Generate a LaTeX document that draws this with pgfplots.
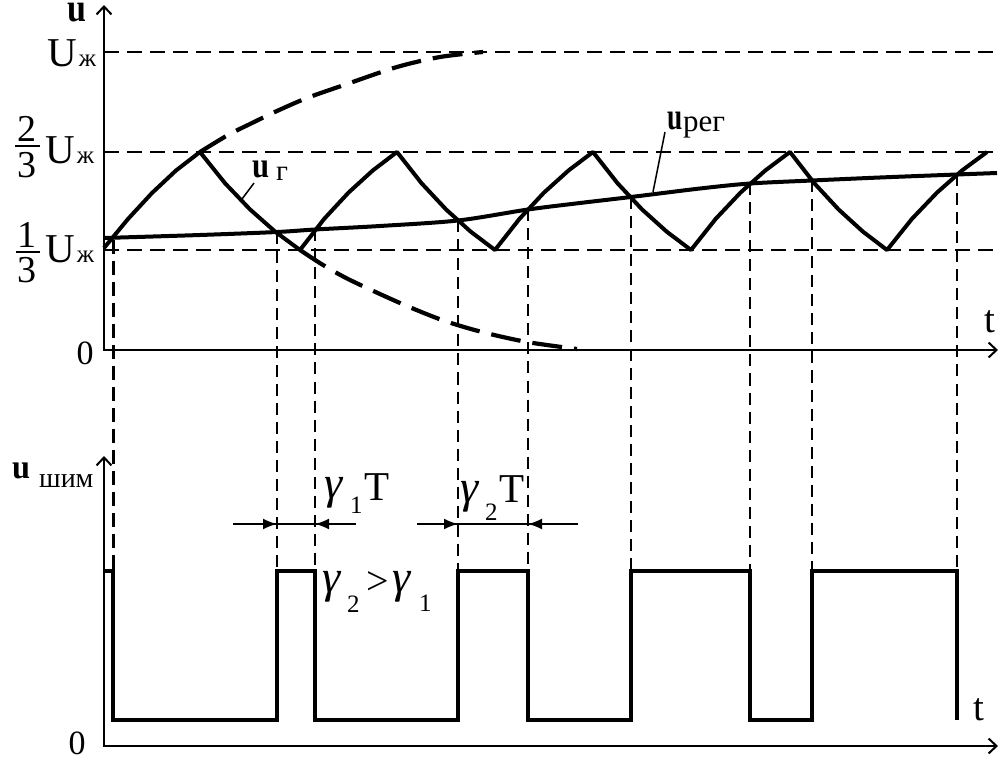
\documentclass[border=0pt]{standalone}
\usepackage{fontspec}
\setmainfont{Liberation Serif}
\usepackage{graphicx}
\usepackage{pgfplots}
\pgfplotsset{compat=1.18}
\usetikzlibrary{arrows.meta}
\newcommand{\fs}[1]{\fontsize{#1}{#1}\selectfont}
\begin{document}
\begin{tikzpicture}
\useasboundingbox (0,0) rectangle (999pt,759pt);
\begin{axis}[at={(0,0)}, anchor=south west, scale only axis, width=999pt, height=759pt,
  xmin=0, xmax=999, ymin=0, ymax=759, y dir=reverse, hide axis, clip=false]
% level lines
\addplot[black, line width=1.8pt, dash pattern=on 15pt off 8pt] coordinates {(104,52) (997,52)};
\addplot[black, line width=1.8pt, dash pattern=on 15pt off 8pt] coordinates {(104,152) (997,152)};
\addplot[black, line width=1.8pt, dash pattern=on 15pt off 8pt] coordinates {(104,250) (997,250)};
% axes
\draw[line width=2.6pt, -{Straight Barb[length=8pt,width=15pt,line width=2pt]}] (104,351) -- (104,5);
\draw[line width=2.6pt, -{Straight Barb[length=8pt,width=15pt,line width=2pt]}] (103,350) -- (998,350);
\draw[line width=2pt, -{Straight Barb[length=8pt,width=15pt,line width=2pt]}] (104,747) -- (104,456);
\draw[line width=2pt, -{Straight Barb[length=8pt,width=15pt,line width=2pt]}] (103,746) -- (998,746);
% dashed exponential continuations
\addplot[black, line width=4.2pt, dash pattern=on 30pt off 12pt, smooth] coordinates {
(200,152) (228,135) (250,124) (277,111) (307,98) (347,84) (397,67) (440,57) (483,52)};
\addplot[black, line width=4.2pt, dash pattern=on 30pt off 12pt, smooth] coordinates {
(300,250) (323,265) (350,280) (400,303) (442,320) (482,332) (527,342) (577,349)};
% vertical dashed projection lines
\addplot[black, line width=3pt, dash pattern=on 14pt off 7pt] coordinates {(113,240) (113,571)};
\addplot[black, line width=1.6pt, dash pattern=on 12pt off 7pt] coordinates {(277,232) (277,571)};
\addplot[black, line width=1.6pt, dash pattern=on 12pt off 7pt] coordinates {(315,229.5) (315,571)};
\addplot[black, line width=1.6pt, dash pattern=on 12pt off 7pt] coordinates {(458,220.5) (458,571)};
\addplot[black, line width=2.4pt, dash pattern=on 12pt off 7pt] coordinates {(528,209.5) (528,571)};
\addplot[black, line width=2.2pt, dash pattern=on 12pt off 7pt] coordinates {(631,197) (631,571)};
\addplot[black, line width=1.8pt, dash pattern=on 12pt off 7pt] coordinates {(750,183.5) (750,571)};
\addplot[black, line width=2.2pt, dash pattern=on 12pt off 7pt] coordinates {(812,180.5) (812,571)};
\addplot[black, line width=2pt, dash pattern=on 12pt off 7pt] coordinates {(957,174.5) (957,571)};
% generator voltage u_g
\addplot[black, line width=4pt, line join=round] coordinates {
(104,248) (128,219) (152,193) (176,170.5) (200,152)
(225,183.2) (250,209.4) (275,231.5) (300,250)
(324.25,218.8) (348.5,192.6) (372.75,170.5) (397,152)
(421.5,183.2) (446,209.4) (470.5,231.5) (495,250)
(519.5,218.8) (544,192.6) (568.5,170.5) (593,152)
(617.5,183.2) (642,209.4) (666.5,231.5) (691,250)
(715.75,218.8) (740.5,192.6) (765.25,170.5) (790,152)
(814.25,183.2) (838.5,209.4) (862.75,231.5) (887,250)
(912,218.8) (937,192.6) (962,170.5) (987,152)};
% control voltage u_reg
\addplot[black, line width=4pt, smooth] coordinates {
(104,238) (200,235) (277,232) (315,229.5) (380,226) (458,220.5) (528,209.5) (580,203) (631,197)
(700,188.5) (750,183.5) (812,180.5) (880,177.5) (957,174.5) (997,173)};
% PWM pulses
\addplot[black, line width=4pt, line join=miter] coordinates {
(104,571) (113,571) (113,720) (277,720) (277,571) (315,571) (315,720) (458,720) (458,571)
(528,571) (528,720) (631,720) (631,571) (750,571) (750,720) (812,720) (812,571) (957,571) (957,720)};
% dimension arrows
\draw[line width=1.8pt] (233,524) -- (356,524);
\draw[line width=1.8pt, -{Latex[length=14pt,width=11pt]}] (233,524) -- (277,524);
\draw[line width=1.8pt, -{Latex[length=14pt,width=11pt]}] (356,524) -- (315,524);
\draw[line width=1.8pt] (417,524) -- (578,524);
\draw[line width=1.8pt, -{Latex[length=14pt,width=11pt]}] (417,524) -- (458,524);
\draw[line width=1.8pt, -{Latex[length=14pt,width=11pt]}] (578,524) -- (528,524);
% leader lines
\draw[line width=1.5pt] (254,183) -- (242,199);
\draw[line width=1.5pt] (665,132) -- (653,192);
% fraction bars
\draw[line width=2.2pt] (15,146) -- (40,146);
\draw[line width=2.2pt] (16,252) -- (40,252);
% labels
\node[anchor=base west, inner sep=0] at (67,22) {\fs{40}\bfseries\scalebox{0.85}[1]{u}};
\node[anchor=base west, inner sep=0] at (47,67) {\fs{41}U\kern2pt\fs{25}ж};
\node[anchor=base, inner sep=0] at (27,142) {\fs{38}2};
\node[anchor=base, inner sep=0] at (27,178) {\fs{38}3};
\node[anchor=base west, inner sep=0] at (45,164) {\fs{41}U\kern2pt\fs{25}ж};
\node[anchor=base, inner sep=0] at (27,248) {\fs{38}1};
\node[anchor=base, inner sep=0] at (27,283) {\fs{38}3};
\node[anchor=base west, inner sep=0] at (45,263) {\fs{41}U\kern2pt\fs{25}ж};
\node[anchor=base, inner sep=0] at (85,365) {\fs{34}0};
\node[anchor=base west, inner sep=0] at (984,333) {\fs{39}t};
\node[anchor=base west, inner sep=0] at (252,178) {\fs{36}\bfseries\scalebox{0.85}[1]{u}};
\node[anchor=base west, inner sep=0] at (276,181) {\fs{29}г};
\node[anchor=base west, inner sep=0] at (667,130) {\fs{38}\bfseries\scalebox{0.72}[1]{u}};
\node[anchor=base west, inner sep=0] at (683,132) {\fs{31}рег};
\node[anchor=base west, inner sep=0] at (12,478) {\fs{34}\bfseries\scalebox{0.95}[1]{u}};
\node[anchor=base west, inner sep=0] at (39,487) {\fs{28}шим};
\node[anchor=base, inner sep=0] at (77,754) {\fs{34}0};
\node[anchor=base west, inner sep=0] at (973,720) {\fs{39}t};
% gamma labels
\node[anchor=base west, inner sep=0] at (324,498) {\fs{46}\itshape γ};
\node[anchor=base west, inner sep=0] at (350,513) {\fs{25}1};
\node[anchor=base west, inner sep=0] at (364,500) {\fs{41}T};
\node[anchor=base west, inner sep=0] at (460,502) {\fs{46}\itshape γ};
\node[anchor=base west, inner sep=0] at (485,520) {\fs{25}2};
\node[anchor=base west, inner sep=0] at (499,502) {\fs{41}T};
\node[anchor=base west, inner sep=0] at (322,592) {\fs{46}\itshape γ};
\node[anchor=base west, inner sep=0] at (347,612) {\fs{25}2};
\node[anchor=base west, inner sep=0] at (366,594) {\fs{40}>};
\node[anchor=base west, inner sep=0] at (392,592) {\fs{46}\itshape γ};
\node[anchor=base west, inner sep=0] at (419,611) {\fs{25}1};
\end{axis}
\end{tikzpicture}
\end{document}
